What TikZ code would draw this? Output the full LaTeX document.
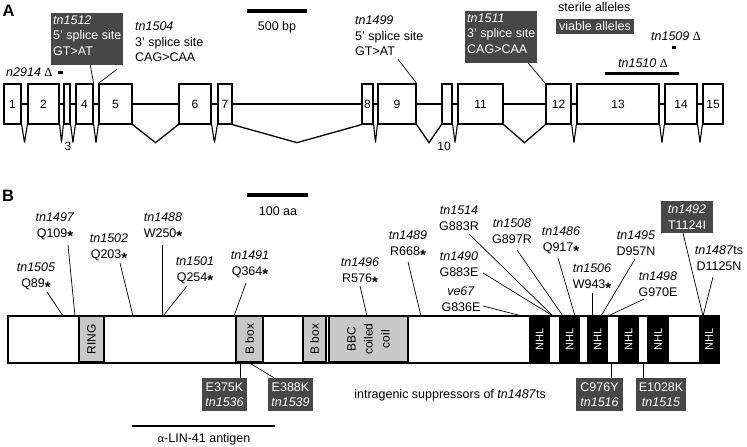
\documentclass[tikz,border=0pt]{standalone}
\usepackage{fontspec}
\setmainfont{Liberation Sans}
\newfontfamily\grk{Liberation Serif}
\usetikzlibrary{calc}
\definecolor{dbox}{HTML}{474747}
\definecolor{domgray}{HTML}{C8C8C8}
\newcommand{\stp}{\raisebox{-4.4pt}{\fontsize{15}{15}\selectfont\bfseries *}}
\begin{document}
\begin{tikzpicture}[x=1pt,y=-1pt,
  every node/.style={font=\fontsize{12.5}{15.5}\selectfont, inner sep=0pt},
  exon/.style={draw, line width=1.3pt, minimum height=40, fill=white, font=\fontsize{12}{14}\selectfont},
  gl/.style={line width=1.3pt},
  spk/.style={line width=1.1pt, line join=bevel},
  thinl/.style={line width=0.7pt},
  darkbox/.style={fill=dbox, text=white, inner xsep=2pt, inner ysep=2.5pt, align=left, minimum width=72},
  lab/.style={align=center, font=\fontsize{12.5}{16}\selectfont},
  sbox/.style={fill=dbox, text=white, align=center, minimum height=33, font=\fontsize{12.5}{15.5}\selectfont},
  dombox/.style={draw, line width=1.3pt, fill=domgray, rotate=90, minimum width=46, font=\fontsize{12}{14}\selectfont},
  nhlbox/.style={draw, line width=1.3pt, fill=black, text=white, rotate=90, minimum width=46, font=\fontsize{11}{13}\selectfont},
  panel/.style={font=\fontsize{16.5}{18}\selectfont\bfseries},
]
\useasboundingbox (0,0) rectangle (747,447);

% ---------------- Panel A ----------------
\node[panel] (lA) at (8.5,11) {A};
\draw[line width=4pt] (247,11) -- (307,11);
\node (s500) at (277,27) {500 bp};

% exons
\foreach \n/\a/\b in {1/4/21, 2/28/59, 4/76/93, 5/99/132, 6/179/211, 7/218/232, 8/362/373, 9/378/416, 11/458/503, 12/546/571, 13/577/659, 14/665/697, 15/703/723}
  \node[exon, minimum width={\b-\a}] (e\n) at ({(\a+\b)/2},104) {\n};
\foreach \n/\a/\b in {3/64/70, 10/442/452}
  \node[exon, minimum width={\b-\a}] (e\n) at ({(\a+\b)/2},104) {};
\node[font=\fontsize{12}{14}\selectfont] (n3) at (68,146) {3};
\node[font=\fontsize{12}{14}\selectfont] (n10) at (444,146) {10};

% introns
\foreach \i [evaluate=\i as \j using {int(\i+1)}] in {1,...,14}
  \draw[gl] (e\i.east) -- (e\j.west);
\foreach \i/\j in {1/2,2/3,3/4,4/5,6/7,8/9,10/11,12/13,13/14,14/15}
  \draw[spk] (e\i.south east) -- ($(e\i.south east)!0.5!(e\j.south west)+(0,18)$) -- (e\j.south west);
\foreach \i/\j in {5/6,7/8,9/10,11/12}
  \draw[gl] (e\i.south east) -- ($(e\i.south east)!0.5!(e\j.south west)+(0,18)$) -- (e\j.south west);

% annotations A
\node[darkbox, anchor=north west, text depth=7pt] (t1512) at (51,13) {\textit{tn1512}\\5' splice site\\GT>AT};
\draw[thinl] ($(t1512.south)+(3,0)$) -- (e4.north east);
\node[anchor=north west, align=left] (t1504) at (135,22) {\textit{tn1504}\\3' splice site\\CAG>CAA};
\draw[thinl] ($(t1504.south west)+(-18,7)$) -- (e5.north west);
\node[anchor=north west, align=left] (t1499) at (355,16) {\textit{tn1499}\\5' splice site\\GT>AT};
\draw[thinl] ($(t1499.south west)+(43,3)$) -- (e9.north east);
\node[darkbox, anchor=north west, text depth=7pt] (t1511) at (465,11) {\textit{tn1511}\\3' splice site\\CAG>CAA};
\draw[thinl] ($(t1511.south)+(27,0)$) -- (e12.north west);

\node[anchor=west] (ster) at (558,7) {sterile alleles};
\node[fill=dbox, text=white, inner xsep=3pt, inner ysep=2.5pt] (viab) at (595,26.5) {viable alleles};

\node[anchor=west] (d2914) at (6,72) {\textit{n2914} {\grk Δ}};
\fill (58,70.5) rectangle (63,73.5);
\node (d1509) at (676,36) {\textit{tn1509} {\grk Δ}};
\fill (672,45.5) rectangle (675.5,48.5);
\node (d1510) at (643,63) {\textit{tn1510} {\grk Δ}};
\fill (605,71.5) rectangle (679,74.5);

% ---------------- Panel B ----------------
\node[panel] (lB) at (8,196) {B};
\draw[line width=4pt] (247,195) -- (308,195);
\node (s100) at (278,211) {100 aa};

\node[draw, line width=1.3pt, fill=white, minimum width=710, minimum height=46, anchor=north west] (bar) at (8,316) {};
\node[dombox, minimum height=25] (ring) at (91.5,339) {RING};
\node[dombox, minimum height=27] (bb1) at (249.5,339) {B box};
\node[dombox, minimum height=23] (bb2) at (314.5,339) {B box};
\node[dombox, minimum height=79, align=center, font=\fontsize{12}{17}\selectfont] (bbc) at (368.5,339) {BBC\\coiled\\coil};
\foreach \k/\c/\w in {1/539.5/19, 2/569.5/19, 3/597.5/19, 4/628.5/19, 5/658/20, 6/709/18}
  \node[nhlbox, minimum height=\w] (nhl\k) at (\c,339) {NHL};
\draw[line width=1.3pt] (bar.north west) rectangle (bar.south east);

% labels above the bar
\node[lab] (l1505) at (36,277.5) {\textit{tn1505}\\Q89\stp};
\node[lab] (l1497) at (55,227) {\textit{tn1497}\\Q109\stp};
\node[lab] (l1502) at (109,248.5) {\textit{tn1502}\\Q203\stp};
\node[lab] (l1488) at (163,227) {\textit{tn1488}\\W250\stp};
\node[lab] (l1501) at (195,271) {\textit{tn1501}\\Q254\stp};
\node[lab] (l1491) at (250,265) {\textit{tn1491}\\Q364\stp};
\node[lab] (l1496) at (360,272.5) {\textit{tn1496}\\R576\stp};
\node[lab] (l1489) at (408,245.5) {\textit{tn1489}\\R668\stp};
\node[lab] (l1514) at (459,218) {\textit{tn1514}\\G883R};
\node[lab] (l1490) at (459,264) {\textit{tn1490}\\G883E};
\node[lab] (lve67) at (461,299.5) {\textit{ve67}\\G836E};
\node[lab] (l1508) at (512,231.5) {\textit{tn1508}\\G897R};
\node[lab] (l1486) at (561,241.5) {\textit{tn1486}\\Q917\stp};
\node[lab] (l1506) at (592,278.5) {\textit{tn1506}\\W943\stp};
\node[lab] (l1495) at (636,243) {\textit{tn1495}\\D957N};
\node[lab] (l1498) at (658,284) {\textit{tn1498}\\G970E};
\node[sbox, minimum width=52, minimum height=32] (l1492) at (687,217) {\textit{tn1492}\\T1124I};
\node[lab] (l1487) at (719,258.5) {\textit{tn1487}ts\\D1125N};

\coordinate (b1505) at (63,316);
\coordinate (b1497) at (75,316);
\coordinate (b1502) at (133,316);
\coordinate (b1488) at (162,316);
\coordinate (b1501) at (163,316);
\coordinate (b1491) at (234,316);
\coordinate (b1496) at (367,316);
\coordinate (b1489) at (421,316);
\coordinate (b883) at (553,316);
\coordinate (bve67) at (522,316);
\coordinate (b1508) at (563,316);
\coordinate (b1486) at (575,316);
\coordinate (b1506) at (592,316);
\coordinate (b1495) at (601,316);
\coordinate (b1498) at (608,316);
\coordinate (b1124) at (703,316);

\draw[thinl] ($(l1505)+(11,14.5)$) -- (b1505);
\draw[thinl] ($(l1497)+(13,18)$) -- (b1497);
\draw[thinl] ($(l1502)+(11,14.5)$) -- (b1502);
\draw[thinl] ($(l1488)+(-1,18)$) -- (b1488);
\draw[thinl] ($(l1501)+(-8,15)$) -- (b1501);
\draw[thinl] ($(l1491)+(-4,18)$) -- (b1491);
\draw[thinl] ($(l1496)+(0,13.5)$) -- (b1496);
\draw[thinl] ($(l1489)+(0,16.5)$) -- (b1489);
\draw[thinl] ($(l1514)+(10,16)$) -- (b883);
\draw[thinl] ($(l1490)+(24,9)$) -- (b883);
\draw[thinl] ($(lve67)+(22,6.5)$) -- (bve67);
\draw[thinl] ($(l1508)+(5,18.5)$) -- (b1508);
\draw[thinl] ($(l1486)+(-3,16.5)$) -- (b1486);
\draw[thinl] ($(l1506)+(0,14.5)$) -- (b1506);
\draw[thinl] ($(l1495)+(-1,16)$) -- (b1495);
\draw[thinl] ($(l1498)+(-14,15)$) -- (b1498);
\draw[thinl] ($(l1492.south)+(-4,0)$) -- (b1124);
\draw[thinl] ($(l1487)+(-6,18.5)$) -- (b1124);

% suppressors below the bar
\node[sbox, minimum width=45] (m375) at (224.5,394.5) {E375K\\\textit{tn1536}};
\node[sbox, minimum width=45] (m388) at (290.5,394.5) {E388K\\\textit{tn1539}};
\node[sbox, minimum width=47] (m976) at (599.5,394.5) {C976Y\\\textit{tn1516}};
\node[sbox, minimum width=50] (m1028) at (661,394.5) {E1028K\\\textit{tn1515}};
\coordinate (c375) at (240,362);
\coordinate (c388) at (248,362);
\coordinate (c976) at (611,362);
\coordinate (c1028) at (643,362);
\draw[thinl] (c375) -- ($(m375.north)+(15.5,0)$);
\draw[thinl] (c388) -- ($(m388.north)+(-16.5,0)$);
\draw[thinl] (c976) -- ($(m976.north)+(11.5,0)$);
\draw[thinl] (c1028) -- ($(m1028.north)+(-18,0)$);

\node[anchor=east] (intra) at (546,395) {intragenic suppressors of \textit{tn1487}ts};

\draw[line width=2.5pt] (132,426) -- (275,426);
\node (antigen) at (204,439) {{\grk α}-LIN-41 antigen};
\end{tikzpicture}
\end{document}
